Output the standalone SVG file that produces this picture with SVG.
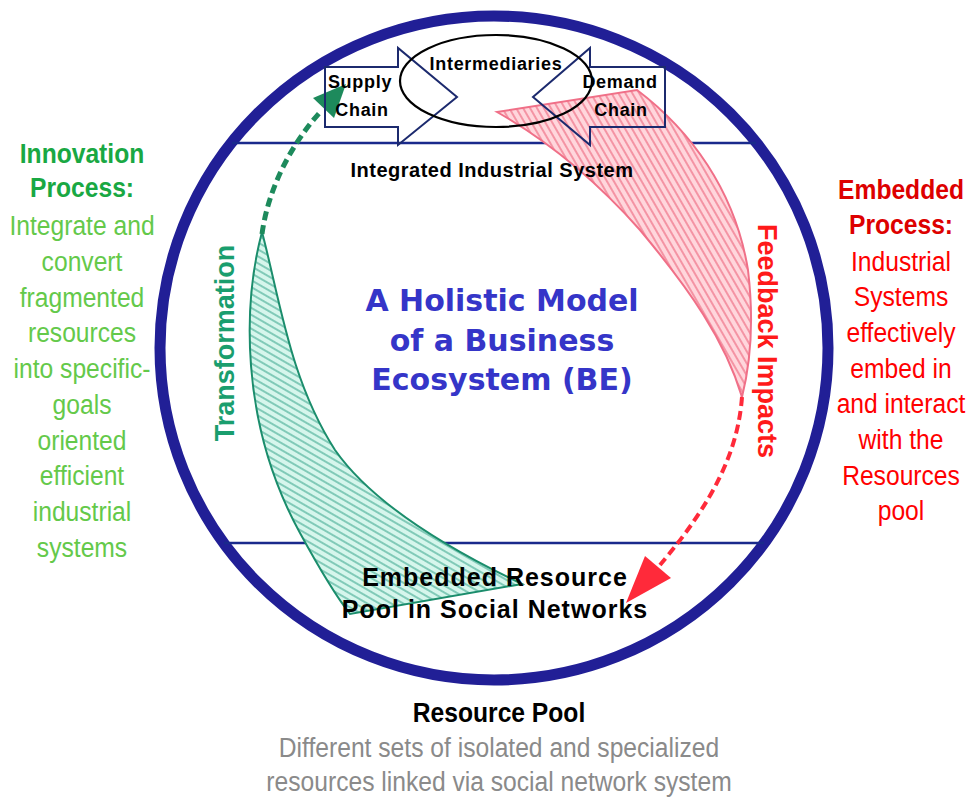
<svg xmlns="http://www.w3.org/2000/svg" width="968" height="800" viewBox="0 0 968 800">
<style>
.arial{font-family:"Liberation Sans",Arial,sans-serif}
.bold{font-weight:bold}
.box{fill:none;stroke:#1c2a6e;stroke-width:2}
.hline{stroke:#1a2a8c;stroke-width:2.5}
.lbl{font-family:"Liberation Sans",Arial,sans-serif;font-weight:bold;font-size:18px;letter-spacing:0.7px;fill:#000;text-anchor:middle}
.cond{font-family:"Liberation Sans",Arial,sans-serif;font-size:28px;text-anchor:middle}
.title{font-family:"DejaVu Sans",Verdana,sans-serif;font-weight:bold;font-size:30px;fill:#3535c8;text-anchor:middle}
</style>
<defs>
<pattern id="hatchG" width="6" height="6" patternUnits="userSpaceOnUse" patternTransform="rotate(30)">
<rect width="6" height="6" fill="#d6f6ec"/>
<line x1="0" y1="3" x2="6" y2="3" stroke="#52b39c" stroke-width="1.3"/>
</pattern>
<pattern id="hatchR" width="6" height="6" patternUnits="userSpaceOnUse" patternTransform="rotate(60)">
<rect width="6" height="6" fill="#ffd6dc"/>
<line x1="0" y1="3" x2="6" y2="3" stroke="#ef7086" stroke-width="1.3"/>
</pattern>
</defs>
<rect width="968" height="800" fill="#fff"/>

<g id="ecosystem-circle">
<ellipse cx="494" cy="348" rx="334" ry="332" fill="none" stroke="#211f96" stroke-width="11"/>
<line class="hline" x1="232" y1="143" x2="756" y2="143"/>
<line class="hline" x1="224" y1="543" x2="764" y2="543"/>
</g>

<g id="connectors">
<g id="transformation-arrow">
<path d="M262 232 C244 300 238 420 300 533 C318 566 335 595 350 614 L522 584 C440 545 370 500 335 450 C290 380 280 300 262 232 Z" fill="url(#hatchG)" stroke="#1b8d6c" stroke-width="2"/>
<path d="M262 234 C268 190 290 145 322 110" fill="none" stroke="#1d8a5c" stroke-width="5" stroke-dasharray="9 5"/>
<polygon points="346,84 334,118 313,98" fill="#1d8a5c"/>
</g>
<g id="feedback-arrow">
<path d="M497 112 L637 90 C690 130 735 190 748 270 C754 320 750 365 742 397 C725 340 690 290 640 230 C600 185 555 145 497 112 Z" fill="url(#hatchR)" stroke="#f07088" stroke-width="2"/>
<path d="M742 397 C738 450 715 500 660 565" fill="none" stroke="#ff2a3a" stroke-width="4" stroke-dasharray="9 5"/>
<polygon points="626,603 671,578 645,556" fill="#ff2a3a"/>
</g>
</g>

<g id="supply-chain">
<polygon class="box" points="325,67 398,67 398,48 457,97 398,145 398,127 325,127"/>
<text class="lbl" x="360" y="88">Supply</text>
<text class="lbl" x="362" y="116">Chain</text>
</g>
<g id="demand-chain">
<polygon class="box" points="665,67 590,67 590,48 533,97 590,145 590,127 665,127"/>
<text class="lbl" x="620" y="88">Demand</text>
<text class="lbl" x="621" y="116">Chain</text>
</g>
<g id="intermediaries">
<ellipse cx="496" cy="81" rx="96" ry="46" fill="none" stroke="#000" stroke-width="2.2"/>
<text class="lbl" x="496" y="70">Intermediaries</text>
</g>

<g id="integrated-industrial-system">
<text class="arial bold" x="492" y="177" font-size="20" letter-spacing="0.5" text-anchor="middle">Integrated Industrial System</text>
</g>

<g id="title">
<text class="title" x="502" y="311">A Holistic Model</text>
<text class="title" x="502" y="351">of a Business</text>
<text class="title" x="502" y="390">Ecosystem (BE)</text>
</g>

<g id="transformation-label">
<text class="arial bold" transform="translate(234 343) rotate(-90)" x="0" y="0" font-size="27" fill="#1a9e6e" text-anchor="middle">Transformation</text>
</g>
<g id="feedback-label">
<text class="arial bold" transform="translate(758 341) rotate(90)" x="0" y="0" font-size="27" fill="#ff1a1a" text-anchor="middle">Feedback Impacts</text>
</g>

<g id="embedded-resource-pool">
<text class="arial bold" x="495" y="586" font-size="25" letter-spacing="1" text-anchor="middle">Embedded Resource</text>
<text class="arial bold" x="495" y="618" font-size="25" letter-spacing="1" text-anchor="middle">Pool in Social Networks</text>
</g>

<g id="innovation-process" transform="translate(82 0) scale(0.88 1)">
<text class="cond bold" x="0" y="163" fill="#19a843">Innovation</text>
<text class="cond bold" x="0" y="197" fill="#19a843">Process:</text>
<g fill="#64c94a">
<text class="cond" x="0" y="235">Integrate and</text>
<text class="cond" x="0" y="271">convert</text>
<text class="cond" x="0" y="307">fragmented</text>
<text class="cond" x="0" y="342">resources</text>
<text class="cond" x="0" y="378">into specific-</text>
<text class="cond" x="0" y="414">goals</text>
<text class="cond" x="0" y="450">oriented</text>
<text class="cond" x="0" y="485">efficient</text>
<text class="cond" x="0" y="521">industrial</text>
<text class="cond" x="0" y="557">systems</text>
</g>
</g>

<g id="embedded-process" transform="translate(901 0) scale(0.88 1)">
<text class="cond bold" x="0" y="199" fill="#dd0000">Embedded</text>
<text class="cond bold" x="0" y="234" fill="#dd0000">Process:</text>
<g fill="#ff0000">
<text class="cond" x="0" y="271">Industrial</text>
<text class="cond" x="0" y="306">Systems</text>
<text class="cond" x="0" y="342">effectively</text>
<text class="cond" x="0" y="378">embed in</text>
<text class="cond" x="0" y="413">and interact</text>
<text class="cond" x="0" y="449">with the</text>
<text class="cond" x="0" y="485">Resources</text>
<text class="cond" x="0" y="520">pool</text>
</g>
</g>

<g id="resource-pool" transform="translate(499 0) scale(0.88 1)">
<text class="cond bold" x="0" y="722" fill="#000">Resource Pool</text>
<g fill="#8a8a8a">
<text class="cond" x="0" y="757">Different sets of isolated and specialized</text>
<text class="cond" x="0" y="791">resources linked via social network system</text>
</g>
</g>
</svg>
